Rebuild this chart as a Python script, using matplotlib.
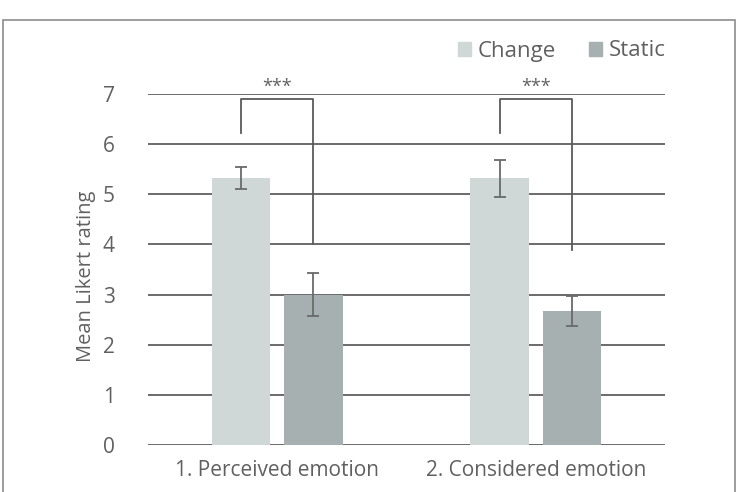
import matplotlib
matplotlib.use("Agg")
import matplotlib.pyplot as plt
from matplotlib.patches import Rectangle, Patch
import numpy as np

categories = ["1. Perceived emotion", "2. Considered emotion"]
series = ["Change", "Static"]
change_vals = [5.33, 5.32]
change_err = [0.22, 0.37]
static_vals = [3.0, 2.67]
static_err = [0.43, 0.30]
yticks = [0, 1, 2, 3, 4, 5, 6, 7]
sig_labels = ["***", "***"]
bracket_left = [6.23, 6.23]
bracket_top = [6.9, 6.9]
bracket_right = [4.0, 3.89]

plt.rcParams['font.family'] = ['Open Sans', 'DejaVu Sans']
txt = '#606060'
grid_c = '#5f5f5f'
c_change = '#d0d7d7'
c_static = '#a7b0b0'
fs = 15

fig = plt.figure(figsize=(7.37, 4.92), dpi=100)
fig.patches.append(Rectangle((3/737, -0.1), 732/737, 1.1 - 20/492, transform=fig.transFigure,
                             fill=False, edgecolor='#8c8c8c', linewidth=1.2, zorder=0))
ax = fig.add_axes([148/737, 1 - 445/492, 517/737, 351/492])
x = np.arange(len(categories))
w = 0.225
off = 0.14
for yv in yticks:
    ax.axhline(yv, color=grid_c, linewidth=1.3, zorder=1)
ax.bar(x - off, change_vals, w, color=c_change, zorder=2, label=series[0])
ax.bar(x + off, static_vals, w, color=c_static, zorder=2, label=series[1])
ax.errorbar(x - off, change_vals, yerr=change_err, fmt='none', ecolor='#6a6a6a',
            elinewidth=1.3, capsize=4, capthick=1.3, zorder=3)
ax.errorbar(x + off, static_vals, yerr=static_err, fmt='none', ecolor='#6a6a6a',
            elinewidth=1.3, capsize=4, capthick=1.3, zorder=3)
for i in range(len(categories)):
    ax.plot([x[i] - off, x[i] - off, x[i] + off, x[i] + off],
            [bracket_left[i], bracket_top[i], bracket_top[i], bracket_right[i]],
            color='#5a5a5a', linewidth=1.3, zorder=4)
    ax.text(x[i], 7.14, sig_labels[i], ha='center', va='center', fontsize=13, color=txt)

ax.set_xlim(-0.5, 1.5)
ax.set_ylim(0, 7)
ax.set_yticks(yticks)
ax.set_xticks(x)
ax.set_xticklabels(categories)
ax.tick_params(axis='both', length=0, labelsize=fs, colors=txt)
ax.tick_params(axis='y', pad=24)
ax.tick_params(axis='x', pad=11)
for s in ax.spines.values():
    s.set_visible(False)
ax.set_ylabel("Mean Likert rating", fontsize=14.5, color=txt)
ax.yaxis.set_label_coords(-52/517, 0.48)
ax.set_facecolor('none')

handles = [Patch(color=c_change), Patch(color=c_static)]
fig.legend(handles, series, loc='center right', bbox_to_anchor=(686/737, 1 - 51/492),
           ncol=2, frameon=False, fontsize=16, labelcolor=txt, handlelength=0.6,
           handleheight=0.6, handletextpad=0.3, columnspacing=1.5)
fig.savefig("out.png", dpi=100)
